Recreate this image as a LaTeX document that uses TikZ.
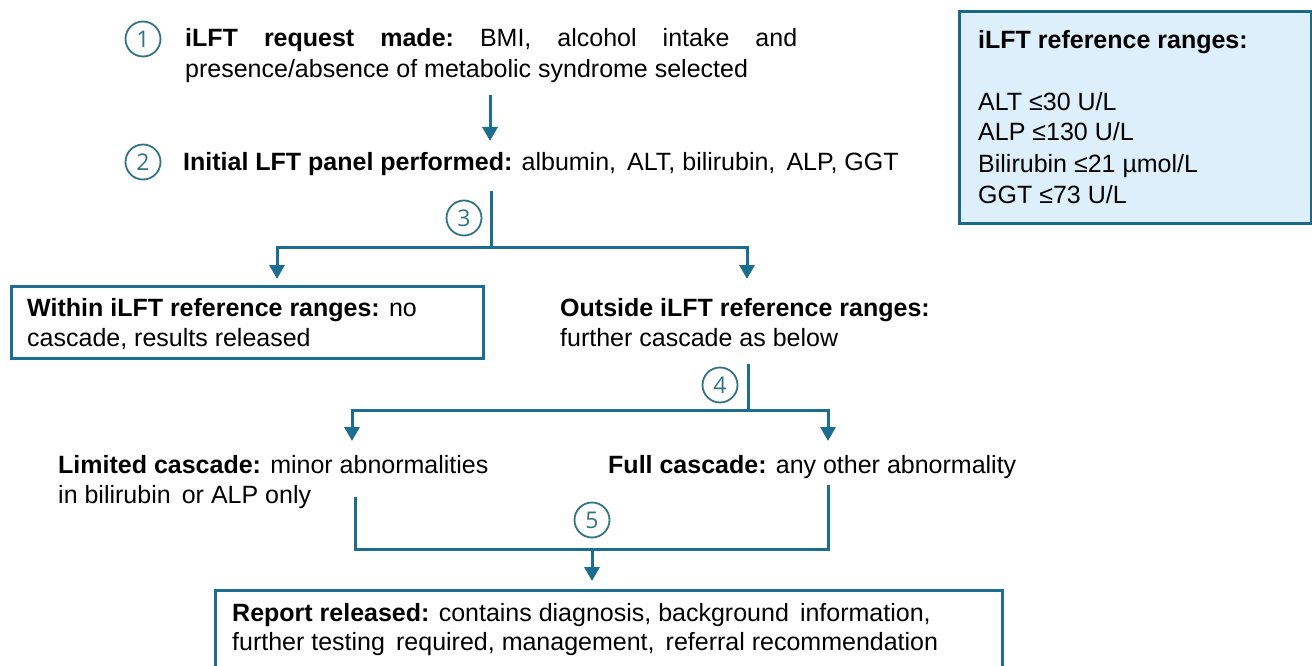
\documentclass[tikz,border=0pt]{standalone}
\usepackage{fontspec}
\setmainfont{Liberation Sans}
\newfontfamily\numfont{Open Sans}
\usetikzlibrary{arrows.meta}
\definecolor{teal1}{RGB}{27,110,143}
\definecolor{circ}{RGB}{50,115,130}
\definecolor{reffill}{RGB}{221,239,250}
\definecolor{refdraw}{RGB}{28,104,134}
\begin{document}
\begin{tikzpicture}[x=1pt,y=-1pt,
 txt/.style={inner sep=0pt, anchor=base west, font=\fontsize{25}{30.5}\selectfont},
 num/.style={circle, draw=circ, line width=1.8pt, minimum size=35pt, inner sep=0pt, text=circ, font=\numfont\fontsize{23}{23}\selectfont},
 conn/.style={draw=teal1, line width=3pt},
 arr/.style={conn, -{Triangle[width=15pt,length=14pt]}},
 boxs/.style={draw=teal1, line width=3pt, inner sep=0pt, anchor=north west},
]
\clip (0,0) rectangle (1312,666);
% reference box
\node[boxs, fill=reffill, draw=refdraw, minimum width=352pt, minimum height=212pt] (refbox) at (958,10) {};
\node[txt] (r0) at (978,49) {\textbf{iLFT reference ranges:}};
\node[txt] (r1) at (978,111) {ALT ≤30 U/L};
\node[txt] (r2) at (978,141) {ALP ≤130 U/L};
\node[txt] (r3) at (978,172) {Bilirubin ≤21 µmol/L};
\node[txt] (r4) at (978,203) {GGT ≤73 U/L};
% step circles
\node[num] (c1) at (143,39) {1};
\node[num] (c2) at (143,162) {2};
\node[num] (c3) at (464,218) {3};
\node[num] (c4) at (720,385) {4};
\node[num] (c5) at (592,520) {5};
% texts
\node[txt] (t1a) at (185,47) {\hbox to 612pt{\textbf{iLFT}\hfill\textbf{request}\hfill\textbf{made:}\hfill BMI,\hfill alcohol\hfill intake\hfill and}};
\node[txt] (t1b) at (185,78) {presence/absence of metabolic syndrome selected};
\node[txt] (t2) at (183,171) {\textbf{Initial LFT panel performed:} albumin,\, ALT, bilirubin,\, ALP, GGT};
\node[boxs, minimum width=472pt, minimum height=72pt] (within) at (10,285) {};
\node[txt] (w1) at (27,316) {\textbf{Within iLFT reference ranges:} no};
\node[txt] (w2) at (27,346) {cascade, results released};
\node[txt] (o1) at (560,316) {\textbf{Outside iLFT reference ranges:}};
\node[txt] (o2) at (560,346) {further cascade as below};
\node[txt] (l1) at (58,473) {\textbf{Limited cascade:} minor abnormalities};
\node[txt] (l2) at (58,503) {in bilirubin\, or ALP only};
\node[txt] (f1) at (608,473) {\textbf{Full cascade:} any other abnormality};
\node[boxs, minimum width=787pt, minimum height=100pt] (report) at (214,589) {};
\node[txt] (p1t) at (232,621) {\textbf{Report released:} contains diagnosis, background\, information,};
\node[txt] (p2t) at (232,650) {further testing\, required, management,\, referral recommendation};
% connectors
\coordinate (s1) at (490,95); \coordinate (e1) at (490,141);
\draw[arr] (s1) -- (e1);
\coordinate (b3top) at (491,191); \coordinate (b3) at (491,247);
\coordinate (a3l) at (277,279); \coordinate (a3r) at (747,279);
\draw[conn] (b3top) -- (b3);
\draw[arr] (b3) -| (a3l);
\draw[arr] (b3) -| (a3r);
\coordinate (b4top) at (748,364); \coordinate (b4) at (748,410);
\coordinate (a4l) at (352,441); \coordinate (a4r) at (828,441);
\draw[conn] (b4top) -- (b4);
\draw[arr] (b4) -| (a4l);
\draw[arr] (b4) -| (a4r);
\coordinate (m5l) at (355,497); \coordinate (m5r) at (828,485);
\coordinate (m5) at (592,549); \coordinate (a5) at (592,581);
\draw[conn] (m5l) |- (m5) -| (m5r);
\draw[arr] (m5) -- (a5);
\end{tikzpicture}
\end{document}
